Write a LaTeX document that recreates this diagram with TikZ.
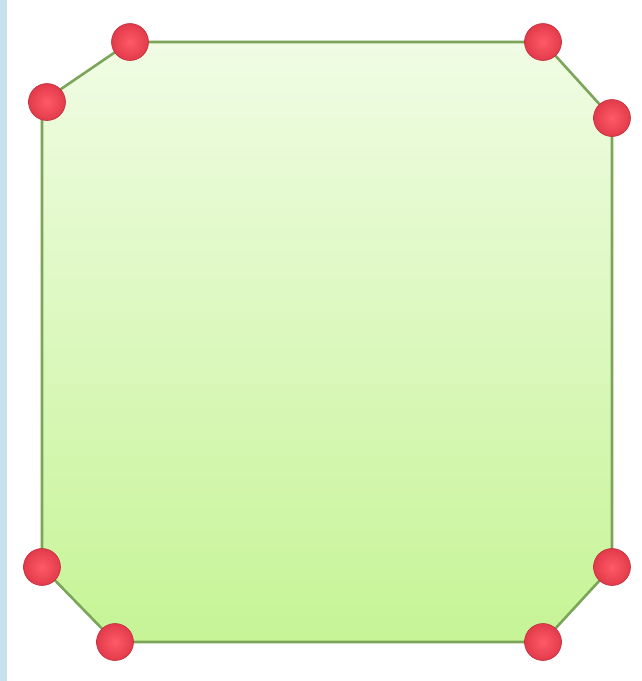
\documentclass[tikz,border=0pt]{standalone}
\usetikzlibrary{shadings}
\definecolor{bandblue}{HTML}{C6E2EA}
\definecolor{edgegreen}{HTML}{7BA65A}
\definecolor{filltop}{HTML}{F0FCE4}
\definecolor{fillbot}{HTML}{C6F496}
\definecolor{dotred}{HTML}{FF5A68}
\definecolor{dotrim}{HTML}{E23A4A}
\begin{document}
\begin{tikzpicture}[x=1pt,y=-1pt,
		vtx/.style={circle,minimum size=37pt,inner sep=0pt,draw=dotrim!85!black,line width=0.6pt,
			inner color=dotred,outer color=dotrim},
		rim/.style={draw=edgegreen,line width=2.6pt,line join=round}]
		\useasboundingbox (0,0) rectangle (642,681);
		\fill[white] (0,0) rectangle (642,681);
		\fill[bandblue] (0,0) rectangle (7,681);
		% corners of the octagon
		\coordinate (p1) at (130,42);
		\coordinate (p2) at (543,42);
		\coordinate (p3) at (612,118);
		\coordinate (p4) at (612,567);
		\coordinate (p5) at (543,642);
		\coordinate (p6) at (115,642);
		\coordinate (p7) at (42,567);
		\coordinate (p8) at (42,102);
		% soft shadow below
		\fill[black,opacity=0.12] ([yshift=6pt]p5) -- ([yshift=6pt]p6) -- ([yshift=3pt]p6) -- ([yshift=3pt]p5) -- cycle;
		\shade[top color=filltop,bottom color=fillbot] (p1) -- (p2) -- (p3) -- (p4) -- (p5) -- (p6) -- (p7) -- (p8) -- cycle;
		\draw[rim] (p1) -- (p2) -- (p3) -- (p4) -- (p5) -- (p6) -- (p7) -- (p8) -- cycle;
		\foreach \i in {1,...,7}
			\node[vtx] (d\i) at (p\i) {};
		\node[vtx] (d8) at ([xshift=5pt]p8) {};
	\end{tikzpicture}
\end{document}
